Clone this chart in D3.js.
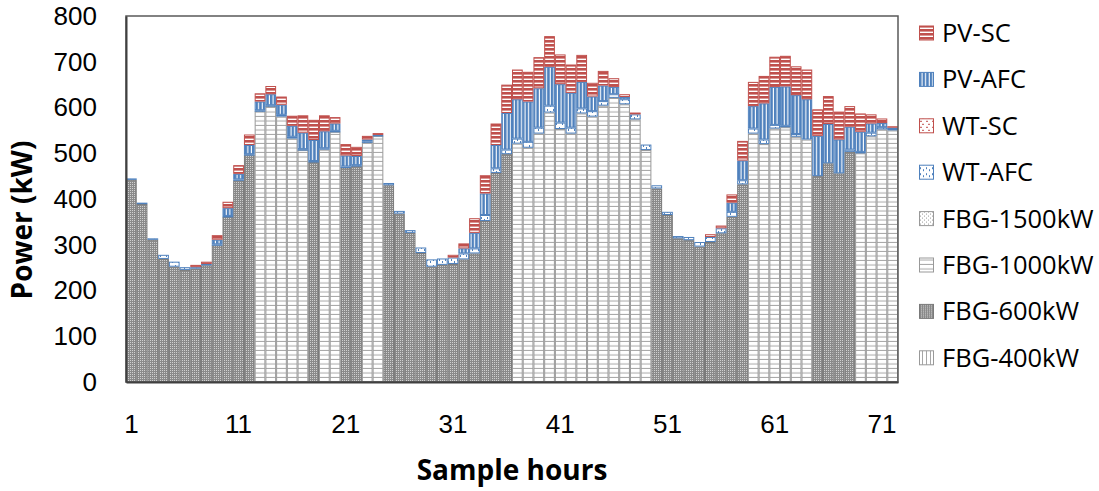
<!DOCTYPE html>
<html>
<head>
<meta charset="utf-8">
<script src="https://cdn.jsdelivr.net/npm/d3@7"></script>
<style>
  body { margin: 0; background: #fff; }
  text { font-family: "Open Sans", "DejaVu Sans", sans-serif; fill: #000; }
  .tick text { font-family: "Liberation Sans", Arial, sans-serif; }
</style>
</head>
<body>
<div id="chart"></div>
<script>
// hours 1..72
const hours = d3.range(1, 73);
const xTickLabels = [1, 11, 21, 31, 41, 51, 61, 71];
const yTickLabels = [0, 100, 200, 300, 400, 500, 600, 700, 800];

// which fuel-based generator runs each hour (kW rating)
const fbgSize = [
  600, 600, 600, 600, 600, 600, 600, 600, 600, 600, 600, 600,
  1000, 1000, 1000, 1000, 1000, 600, 1000, 1000, 600, 600, 1000, 1000,
  600, 600, 600, 600, 600, 600, 600, 600, 600, 600, 600, 600,
  1000, 1000, 1000, 1000, 1000, 1000, 1000, 1000, 1000, 1000, 1000, 1000, 1000,
  600, 600, 600, 600, 600, 600, 600, 600, 600,
  1000, 1000, 1000, 1000, 1000, 1000,
  600, 600, 600, 600,
  1000, 1000, 1000, 1000
];
// power from that generator
const fbgPower = [
  442, 389, 311, 269, 252, 245, 248, 255, 299, 361, 441, 496,
  592, 603, 580, 532, 507, 481, 508, 547, 469, 472, 525, 538,
  430, 368, 326, 282, 252, 256, 258, 268, 281, 352, 457, 498,
  521, 512, 543, 589, 553, 543, 587, 580, 604, 621, 607, 574, 507,
  423, 365, 314, 310, 296, 306, 325, 361, 432,
  543, 520, 554, 557, 536, 530,
  450, 478, 456, 503,
  500, 537, 552, 550
];
const wtAfc = [
  3, 3, 3, 9, 11, 6, 3, 3, 2, 2, 2, 2,
  2, 2, 4, 4, 2, 2, 3, 2, 2, 2, 1, 0,
  5, 6, 6, 12, 16, 14, 14, 13, 11, 13, 10, 10,
  11, 13, 13, 15, 14, 13, 11, 12, 10, 8, 11, 11, 12,
  7, 7, 5, 7, 10, 11, 11, 11, 9,
  11, 10, 8, 3, 6, 0,
  0, 0, 0, 5,
  3, 8, 5, 4
];
const wtSc = hours.map(() => 0);
const pvAfc = [
  0, 0, 0, 0, 0, 0, 0, 0, 10, 17, 12, 20,
  19, 24, 22, 24, 36, 46, 37, 16, 24, 20, 4, 2,
  0, 0, 0, 0, 0, 0, 0, 11, 34, 47, 51, 80,
  86, 88, 86, 85, 84, 76, 58, 32, 34, 16, 5, 0, 0,
  0, 0, 0, 0, 0, 0, 0, 20, 43,
  49, 79, 83, 86, 85, 88,
  88, 86, 74, 50,
  44, 20, 9, 2
];
const pvSc = [
  0, 0, 0, 0, 0, 0, 5, 5, 10, 14, 19, 23,
  18, 18, 18, 22, 38, 44, 35, 14, 25, 20, 8, 4,
  0, 0, 0, 0, 0, 0, 6, 11, 32, 40, 47, 62,
  65, 65, 68, 67, 65, 62, 59, 30, 32, 19, 6, 4, 0,
  0, 0, 0, 0, 0, 6, 6, 18, 43,
  53, 60, 66, 67, 63, 65,
  58, 61, 61, 45,
  40, 20, 10, 3
];

const seriesKeys = ['FBG-400kW', 'FBG-600kW', 'FBG-1000kW', 'FBG-1500kW', 'WT-AFC', 'WT-SC', 'PV-AFC', 'PV-SC'];
const legendKeys = ['PV-SC', 'PV-AFC', 'WT-SC', 'WT-AFC', 'FBG-1500kW', 'FBG-1000kW', 'FBG-600kW', 'FBG-400kW'];

const table = hours.map((h, i) => ({
  hour: h,
  'FBG-400kW': fbgSize[i] === 400 ? fbgPower[i] : 0,
  'FBG-600kW': fbgSize[i] === 600 ? fbgPower[i] : 0,
  'FBG-1000kW': fbgSize[i] === 1000 ? fbgPower[i] : 0,
  'FBG-1500kW': fbgSize[i] === 1500 ? fbgPower[i] : 0,
  'WT-AFC': wtAfc[i],
  'WT-SC': wtSc[i],
  'PV-AFC': pvAfc[i],
  'PV-SC': pvSc[i]
}));

const width = 1099, height = 491;
const plotLeft = 126, plotRight = 898, plotTop = 16, plotBottom = 382;

const svg = d3.select('#chart').append('svg')
  .attr('width', width).attr('height', height);

// patterns
const defs = svg.append('defs');
const red = '#C0504D', blue = '#4F81BD';

function pat(id, w, h) {
  return defs.append('pattern').attr('id', id)
    .attr('patternUnits', 'userSpaceOnUse').attr('width', w).attr('height', h);
}
let p = pat('p-pvsc', 4, 4);
p.append('rect').attr('width', 4).attr('height', 4).attr('fill', red);
p.append('rect').attr('y', 2.6).attr('width', 4).attr('height', 1.4).attr('fill', '#fff');

p = pat('p-pvafc', 3.6, 4);
p.append('rect').attr('width', 3.6).attr('height', 4).attr('fill', blue);
p.append('rect').attr('x', 2.5).attr('width', 1.1).attr('height', 4).attr('fill', '#fff');

p = pat('p-wtafc', 6, 6);
p.append('rect').attr('width', 6).attr('height', 6).attr('fill', '#fff');
p.append('rect').attr('x', 1).attr('y', 1).attr('width', 1).attr('height', 2).attr('fill', blue);
p.append('rect').attr('x', 4).attr('y', 3).attr('width', 1).attr('height', 2).attr('fill', blue);

p = pat('p-wtsc', 6, 6);
p.append('rect').attr('width', 6).attr('height', 6).attr('fill', '#fff');
p.append('rect').attr('x', 1).attr('y', 1).attr('width', 2).attr('height', 1).attr('fill', red);
p.append('rect').attr('x', 3).attr('y', 4).attr('width', 2).attr('height', 1).attr('fill', red);

p = pat('p-fbg1500', 4, 4);
p.append('rect').attr('width', 4).attr('height', 4).attr('fill', '#fff');
p.append('rect').attr('x', 1).attr('y', 1).attr('width', 1).attr('height', 1).attr('fill', '#999');
p.append('rect').attr('x', 3).attr('y', 3).attr('width', 1).attr('height', 1).attr('fill', '#999');

p = pat('p-fbg1000', 4, 4.5);
p.append('rect').attr('width', 4).attr('height', 4.5).attr('fill', '#fff');
p.append('rect').attr('y', 3.5).attr('width', 4).attr('height', 1).attr('fill', '#a6a6a6');

p = pat('p-fbg600', 2, 2);
p.append('rect').attr('width', 2).attr('height', 2).attr('fill', '#8a8a8a');
p.append('rect').attr('width', 1).attr('height', 1).attr('fill', '#d0d0d0');

p = pat('p-fbg400', 4, 4);
p.append('rect').attr('width', 4).attr('height', 4).attr('fill', '#fff');
p.append('rect').attr('x', 3).attr('width', 1).attr('height', 4).attr('fill', '#a6a6a6');

const fills = {
  'PV-SC': 'url(#p-pvsc)', 'PV-AFC': 'url(#p-pvafc)', 'WT-SC': 'url(#p-wtsc)', 'WT-AFC': 'url(#p-wtafc)',
  'FBG-1500kW': 'url(#p-fbg1500)', 'FBG-1000kW': 'url(#p-fbg1000)', 'FBG-600kW': 'url(#p-fbg600)', 'FBG-400kW': 'url(#p-fbg400)'
};
const strokes = {
  'PV-SC': red, 'PV-AFC': blue, 'WT-SC': red, 'WT-AFC': blue,
  'FBG-1500kW': '#999', 'FBG-1000kW': '#999', 'FBG-600kW': '#7a7a7a', 'FBG-400kW': '#999'
};

// scales
const x = d3.scaleBand().domain(hours).range([plotLeft, plotRight]).padding(0);
const y = d3.scaleLinear().domain([0, 800]).range([plotBottom, plotTop]);

// bars
const stacked = d3.stack().keys(seriesKeys)(table);
svg.append('g').selectAll('g')
  .data(stacked)
  .join('g')
  .attr('fill', d => fills[d.key])
  .attr('stroke', d => strokes[d.key])
  .attr('stroke-width', 1)
  .selectAll('rect')
  .data(d => d.filter(v => v[1] - v[0] > 0))
  .join('rect')
  .attr('x', d => x(d.data.hour) + 0.5)
  .attr('width', x.bandwidth() - 1)
  .attr('y', d => y(d[1]) + 0.5)
  .attr('height', d => Math.max(0.5, y(d[0]) - y(d[1]) - 1));

// frame
svg.append('rect')
  .attr('x', plotLeft).attr('y', plotTop)
  .attr('width', plotRight - plotLeft).attr('height', plotBottom - plotTop)
  .attr('fill', 'none').attr('stroke', '#595959').attr('stroke-width', 1.5);

// axes
const yAxis = d3.axisLeft(y).tickValues(yTickLabels).tickSize(0).tickPadding(29);
svg.append('g').attr('transform', `translate(${plotLeft},0)`).call(yAxis)
  .call(g => g.select('.domain').attr('stroke', '#404040').attr('stroke-width', 2))
  .selectAll('text').style('font-size', '26px').attr('fill', '#000');

const xAxis = d3.axisBottom(x).tickValues(xTickLabels).tickSize(0).tickPadding(33);
svg.append('g').attr('transform', `translate(0,${plotBottom})`).call(xAxis)
  .call(g => g.select('.domain').attr('stroke', '#404040').attr('stroke-width', 2))
  .selectAll('text').style('font-size', '26px').attr('fill', '#000');

// axis titles
svg.append('text')
  .attr('x', 512).attr('y', 480)
  .attr('text-anchor', 'middle')
  .style('font-size', '28px').style('font-weight', 'bold')
  .text('Sample hours');

svg.append('text')
  .attr('transform', 'translate(32,220) rotate(-90)')
  .attr('text-anchor', 'middle')
  .style('font-size', '28px').style('font-weight', 'bold')
  .text('Power (kW)');

// legend
const legend = svg.append('g').selectAll('g')
  .data(legendKeys)
  .join('g')
  .attr('transform', (d, i) => `translate(919,${33 + i * 46.4})`);
legend.append('rect')
  .attr('x', 0.5).attr('y', -7).attr('width', 14).attr('height', 14)
  .attr('fill', d => fills[d]).attr('stroke', d => strokes[d]);
legend.append('text')
  .attr('x', 23).attr('y', 0).attr('dy', '0.35em')
  .style('font-size', '25.5px')
  .text(d => d);
</script>
</body>
</html>
